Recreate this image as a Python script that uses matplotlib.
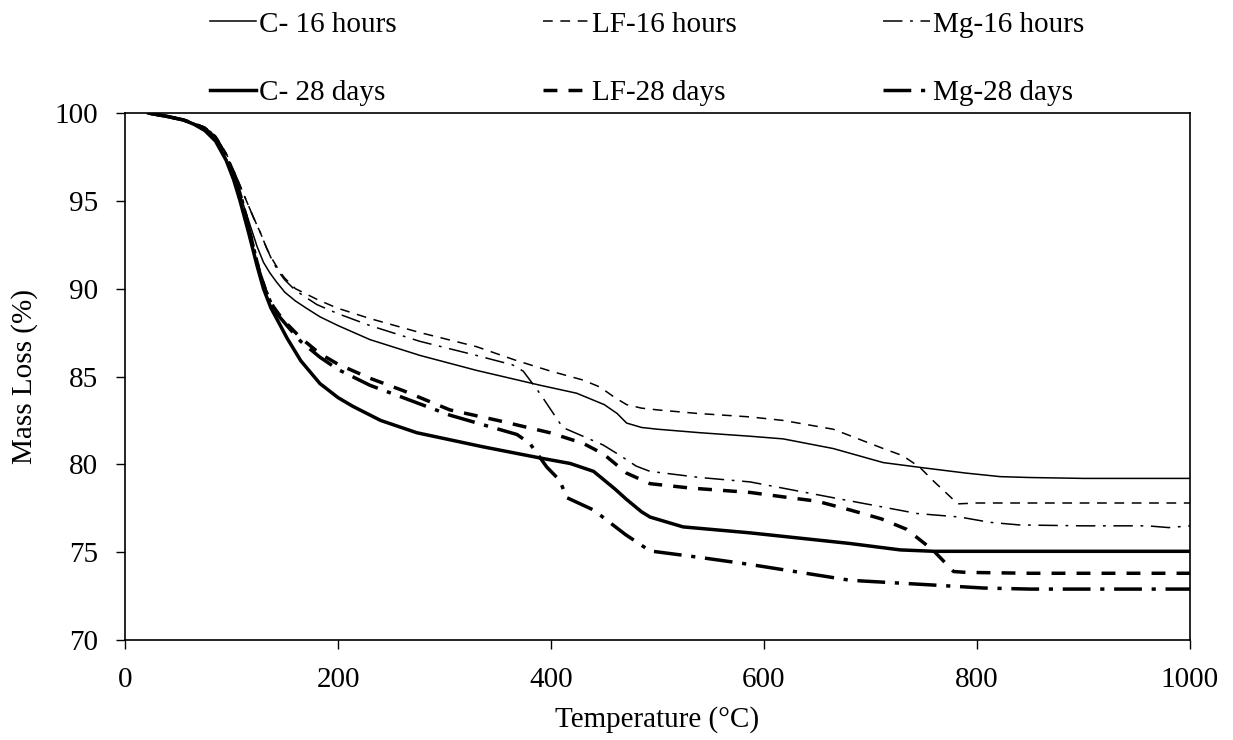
import matplotlib
matplotlib.use("Agg")
import matplotlib.pyplot as plt

plt.rcParams['font.family'] = ['Liberation Serif', 'DejaVu Serif']
plt.rcParams['lines.scale_dashes'] = False

# ---------------- data ----------------
t_c16 = [22, 40, 55, 65, 75, 85, 95, 103, 110, 117, 124, 130, 136, 142, 150, 160, 170, 183, 200, 230, 277,
         330, 390, 424, 450, 462, 471, 485, 500, 540, 587, 618, 665, 712, 750, 790, 822, 850, 900, 950, 1000]
v_c16 = [100, 99.8, 99.6, 99.4, 99.1, 98.5, 97.4, 96.2, 95.0, 93.7, 92.4, 91.5, 90.9, 90.4, 89.8, 89.3,
         88.9, 88.4, 87.9, 87.1, 86.2, 85.35, 84.5, 84.05, 83.4, 82.9, 82.35, 82.1, 82.0, 81.8, 81.6, 81.45,
         80.9, 80.1, 79.8, 79.5, 79.3, 79.25, 79.2, 79.2, 79.2]

t_lf16 = [22, 40, 55, 65, 75, 85, 95, 103, 114, 121, 127, 133, 139, 145, 150, 160, 180, 199, 230, 277,
          330, 368, 400, 430, 446, 460, 471, 485, 500, 537, 587, 618, 665, 712, 730, 746, 760, 775, 782, 800,
          900, 1000]
v_lf16 = [100, 99.8, 99.6, 99.4, 99.2, 98.7, 97.7, 96.6, 95.0, 94.0, 93.2, 92.3, 91.6, 91.0, 90.6, 90.0,
          89.4, 88.9, 88.3, 87.5, 86.7, 85.9, 85.3, 84.8, 84.4, 83.8, 83.4, 83.2, 83.1, 82.9, 82.7, 82.5, 82.0,
          80.9, 80.5, 79.85, 79.0, 78.15, 77.75, 77.8, 77.8, 77.8]

t_mg16 = [22, 40, 55, 65, 75, 85, 95, 103, 114, 121, 127, 133, 139, 145, 150, 160, 180, 199, 230, 277,
          330, 364, 374, 390, 411, 430, 449, 465, 480, 493, 540, 587, 665, 744, 784, 812, 840, 900, 960, 980,
          1000]
v_mg16 = [100, 99.8, 99.6, 99.4, 99.2, 98.7, 97.7, 96.6, 95.0, 94.0, 93.2, 92.3, 91.5, 90.9, 90.5, 89.9,
          89.1, 88.6, 87.9, 87.0, 86.2, 85.66, 85.3, 84.0, 82.1, 81.6, 81.1, 80.5, 79.9, 79.6, 79.25, 79.0,
          78.1, 77.2, 77.0, 76.7, 76.55, 76.5, 76.5, 76.4, 76.5]

t_c28 = [22, 40, 55, 65, 75, 85, 95, 102, 108, 116, 124, 130, 137, 145, 152, 165, 183, 200, 214, 240, 274,
         336, 390, 418, 440, 460, 471, 485, 493, 524, 587, 618, 680, 728, 760, 800, 900, 1000]
v_c28 = [100, 99.8, 99.6, 99.35, 99.0, 98.4, 97.3, 96.2, 95.0, 93.2, 91.3, 90.0, 88.9, 88.0, 87.2, 85.9,
         84.6, 83.8, 83.3, 82.5, 81.8, 81.0, 80.36, 80.05, 79.6, 78.6, 78.0, 77.3, 77.0, 76.44, 76.1, 75.9,
         75.5, 75.13, 75.05, 75.05, 75.05, 75.05]

t_lf28 = [22, 40, 55, 65, 75, 85, 95, 103, 110, 118, 126, 132, 139, 145, 152, 165, 183, 200, 230, 261, 305,
          350, 399, 430, 449, 471, 493, 531, 587, 618, 650, 681, 710, 734, 759, 778, 790, 850, 900, 950, 1000]
v_lf28 = [100, 99.8, 99.6, 99.4, 99.1, 98.6, 97.5, 96.4, 95.0, 93.0, 91.0, 89.9, 89.0, 88.5, 88.0, 87.2,
          86.3, 85.7, 84.9, 84.2, 83.1, 82.5, 81.8, 81.2, 80.6, 79.5, 78.9, 78.65, 78.4, 78.15, 77.9, 77.4,
          76.9, 76.3, 75.1, 73.9, 73.85, 73.8, 73.8, 73.8, 73.8]

t_mg28 = [22, 40, 55, 65, 75, 85, 95, 103, 110, 118, 126, 132, 139, 145, 152, 165, 183, 200, 230, 261, 305,
          368, 380, 396, 408, 415, 440, 470, 493, 540, 587, 681, 759, 806, 850, 1000]
v_mg28 = [100, 99.8, 99.6, 99.4, 99.1, 98.6, 97.5, 96.4, 95.0, 93.0, 91.0, 89.9, 88.9, 88.4, 87.9, 87.0,
          86.1, 85.4, 84.5, 83.8, 82.8, 81.7, 81.2, 79.85, 79.1, 78.1, 77.4, 76.0, 75.07, 74.7, 74.3, 73.4,
          73.13, 72.96, 72.9, 72.9]

labels = ["C- 16 hours", "LF-16 hours", "Mg-16 hours", "C- 28 days", "LF-28 days", "Mg-28 days"]
x_ticks = [0, 200, 400, 600, 800, 1000]
y_ticks = [70, 75, 80, 85, 90, 95, 100]

# ---------------- figure ----------------
fig = plt.figure(figsize=(12.33, 7.40), dpi=100)
ax = fig.add_axes([0.1014, 0.1351, 0.8637, 0.7122])

thin = 1.1
thick = 2.5
h_c16, = ax.plot(t_c16, v_c16, color='black', lw=thin, ls='-')
h_lf16, = ax.plot(t_lf16, v_lf16, color='black', lw=thin, ls=(0, (7, 5.5)))
h_mg16, = ax.plot(t_mg16, v_mg16, color='black', lw=thin, ls=(0, (14, 5.5, 2, 5.5)))
h_c28, = ax.plot(t_c28, v_c28, color='black', lw=thick, ls='-')
h_lf28, = ax.plot(t_lf28, v_lf28, color='black', lw=thick, ls=(0, (10, 8)))
h_mg28, = ax.plot(t_mg28, v_mg28, color='black', lw=thick, ls=(0, (20, 7, 3, 7)))

ax.set_xlim(0, 1000)
ax.set_ylim(70, 100)
ax.set_xticks(x_ticks)
ax.set_yticks(y_ticks)
ax.tick_params(axis='both', direction='out', length=6.5, width=1.0, labelsize=21, color='black')
ax.tick_params(axis='x', pad=13)
ax.tick_params(axis='y', pad=13)
for s in ax.spines.values():
    s.set_linewidth(1.2)
    s.set_color('black')

ax.set_xlabel("Temperature (°C)", fontsize=21, labelpad=9)
ax.set_ylabel("Mass Loss (%)", fontsize=21, labelpad=12)

handles = [h_c16, h_c28, h_lf16, h_lf28, h_mg16, h_mg28]
labs = [labels[0], labels[3], labels[1], labels[4], labels[2], labels[5]]
ax.legend(handles, labs, ncol=3, loc='lower center', bbox_to_anchor=(0.49, 0.985),
          frameon=False, fontsize=21, handlelength=1.6, handletextpad=0.1,
          columnspacing=5.0, labelspacing=1.45, borderaxespad=0.1)

fig.savefig("out.png", dpi=100)
